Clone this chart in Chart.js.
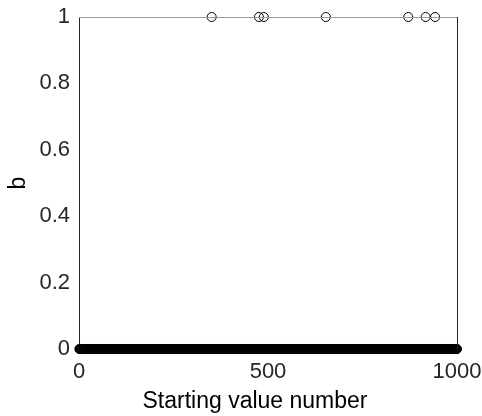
<!DOCTYPE html>
<html lang="en">
<head>
<meta charset="UTF-8">
<title>b vs starting value</title>
<script src="https://cdn.jsdelivr.net/npm/chart.js"></script>
<style>
    body { margin: 0; background: #fff; }
    canvas { display: block; }
</style>
</head>
<body>
<canvas id="bChart" width="482" height="416"></canvas>
<script>
// starting value numbers 1..1000 (the x categories)
var startValues = [];
for (var i = 1; i <= 1000; i++) startValues.push(i);

var hitStarts = [351, 476, 489, 653, 871, 917, 942];

var xTicks = [0, 500, 1000];
var yTicks = [0, 0.2, 0.4, 0.6, 0.8, 1];
var xTitle = 'Starting value number';
var yTitle = 'b';

var bValues = startValues.map(function (s) {
    return hitStarts.indexOf(s) >= 0 ? 1 : 0;
});

var fontFamily = '"Liberation Sans", Arial, Helvetica, sans-serif';

// top and right box lines like the matlab axes box, plus the x label
// (matlab puts it a bit left of the axis centre, chart.js can't do that)
var boxPlugin = {
    id: 'boxLines',
    afterDatasetsDraw: function (chart) {
        var a = chart.chartArea;
        var ctx = chart.ctx;
        ctx.save();
        ctx.lineWidth = 1;
        ctx.strokeStyle = '#999999';
        ctx.beginPath();
        ctx.moveTo(a.left, a.top + 0.5);
        ctx.lineTo(a.right, a.top + 0.5);
        ctx.stroke();
        ctx.strokeStyle = '#262626';
        ctx.beginPath();
        ctx.moveTo(a.right + 0.5, a.top);
        ctx.lineTo(a.right + 0.5, a.bottom);
        ctx.stroke();

        ctx.fillStyle = '#000000';
        ctx.font = '23px ' + fontFamily;
        ctx.textAlign = 'center';
        ctx.textBaseline = 'alphabetic';
        ctx.fillText(xTitle, (a.left + a.right) / 2 - 13, 408);
        ctx.restore();
    }
};

var ctx = document.getElementById('bChart').getContext('2d');
var bChart = new Chart(ctx, {
    type: 'scatter',
    data: {
        datasets: [{
            data: startValues.map(function (s, idx) { return { x: s, y: bValues[idx] }; }),
            pointStyle: 'circle',
            pointRadius: 4.5,
            pointBorderWidth: 1,
            pointBorderColor: '#000000',
            pointBackgroundColor: 'rgba(0,0,0,0)',
            clip: false
        }]
    },
    options: {
        responsive: false,
        animation: false,
        layout: { padding: { top: 17, right: 25, left: 0, bottom: 0 } },
        plugins: {
            legend: { display: false },
            tooltip: { enabled: false }
        },
        scales: {
            x: {
                type: 'linear',
                min: 0,
                max: 1000,
                afterBuildTicks: function (axis) {
                    axis.ticks = xTicks.map(function (v) { return { value: v }; });
                },
                afterFit: function (axis) {
                    axis.height = 67;
                    axis.paddingLeft = 0;
                    axis.paddingRight = 0;
                },
                grid: { display: false, drawTicks: false },
                border: { display: true, color: '#262626', width: 1 },
                ticks: {
                    color: '#262626',
                    padding: 10,
                    maxRotation: 0,
                    font: { family: fontFamily, size: 22 },
                    callback: function (v) { return String(v); }
                },
                title: { display: false }
            },
            y: {
                type: 'linear',
                min: 0,
                max: 1,
                afterBuildTicks: function (axis) {
                    axis.ticks = yTicks.map(function (v) { return { value: v }; });
                },
                afterFit: function (axis) {
                    axis.width = 79;
                    axis.paddingTop = 0;
                    axis.paddingBottom = 0;
                },
                grid: { display: false, drawTicks: false },
                border: { display: true, color: '#262626', width: 1 },
                ticks: {
                    color: '#262626',
                    padding: 9,
                    font: { family: fontFamily, size: 22 },
                    callback: function (v) { return String(v); }
                },
                title: {
                    display: true,
                    text: yTitle,
                    color: '#000000',
                    padding: { top: 5, bottom: 0 },
                    font: { family: fontFamily, size: 23 }
                }
            }
        }
    },
    plugins: [boxPlugin]
});
</script>
</body>
</html>
